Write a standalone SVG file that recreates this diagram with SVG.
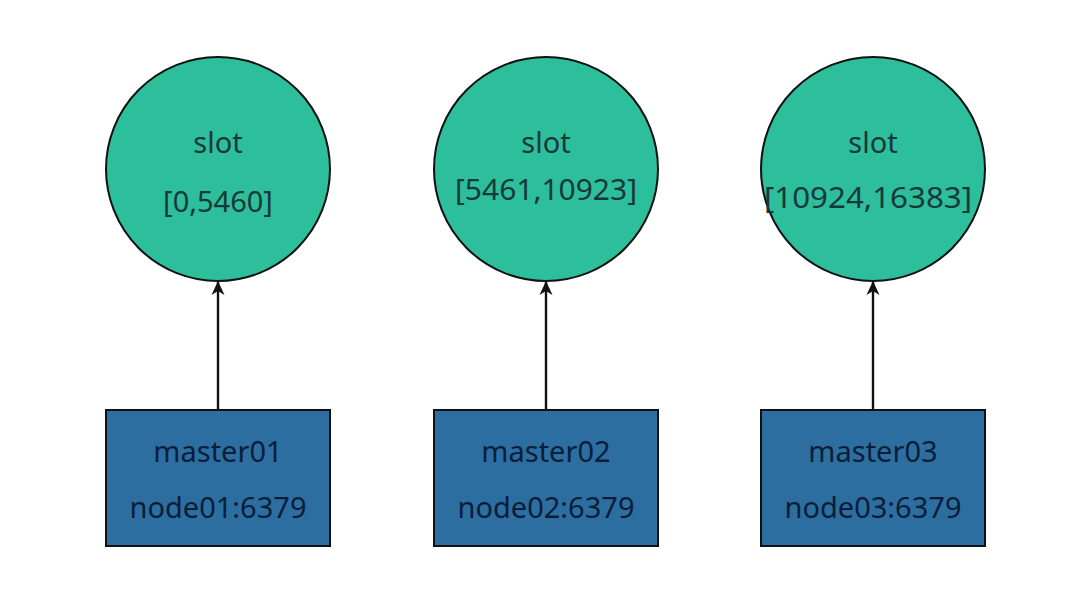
<svg xmlns="http://www.w3.org/2000/svg" width="1072" height="606" viewBox="0 0 1072 606">
<defs>
<style>
.slot{fill:#2dbf9c;stroke:#111;stroke-width:2}
.master{fill:#2c6ea0;stroke:#111;stroke-width:2}
.t{font-family:"Noto Sans","Open Sans",sans-serif;font-size:29px;text-anchor:middle}
.ct{fill:#173838}
.rt{fill:#0b1d38}
.edge{stroke:#111;stroke-width:2.4;fill:none;marker-end:url(#arr)}
</style>
<marker id="arr" viewBox="0 0 14 14" refX="13" refY="7" markerWidth="14" markerHeight="14" markerUnits="userSpaceOnUse" orient="auto">
<path d="M0,0.5 L14,7 L0,13.5 L4,7 Z" fill="#111"/>
</marker>
</defs>
<rect width="1072" height="606" fill="#fff"/>
<g id="connectors">
<line class="edge" x1="218" y1="410" x2="218" y2="282"/>
<line class="edge" x1="546" y1="410" x2="546" y2="282"/>
<line class="edge" x1="873" y1="410" x2="873" y2="282"/>
</g>
<g id="slot1">
<circle class="slot" cx="218" cy="169" r="112"/>
<text class="t ct" x="218" y="153">slot</text>
<text class="t ct" x="218" y="212">[0,5460]</text>
</g>
<g id="slot2">
<circle class="slot" cx="546" cy="169" r="112"/>
<text class="t ct" x="546" y="153">slot</text>
<text class="t ct" x="546" y="200" textLength="182" lengthAdjust="spacingAndGlyphs">[5461,10923]</text>
</g>
<g id="slot3">
<circle class="slot" cx="873" cy="169" r="112"/>
<text class="t ct" x="873" y="153">slot</text>
<text class="t ct" x="868" y="208" textLength="208" lengthAdjust="spacingAndGlyphs">[10924,16383]</text>
</g>
<g id="master01">
<rect class="master" x="106" y="410" width="224" height="136"/>
<text class="t rt" x="218" y="462">master01</text>
<text class="t rt" x="218" y="518">node01:6379</text>
</g>
<g id="master02">
<rect class="master" x="434" y="410" width="224" height="136"/>
<text class="t rt" x="546" y="462">master02</text>
<text class="t rt" x="546" y="518">node02:6379</text>
</g>
<g id="master03">
<rect class="master" x="761" y="410" width="224" height="136"/>
<text class="t rt" x="873" y="462">master03</text>
<text class="t rt" x="873" y="518">node03:6379</text>
</g>
</svg>
